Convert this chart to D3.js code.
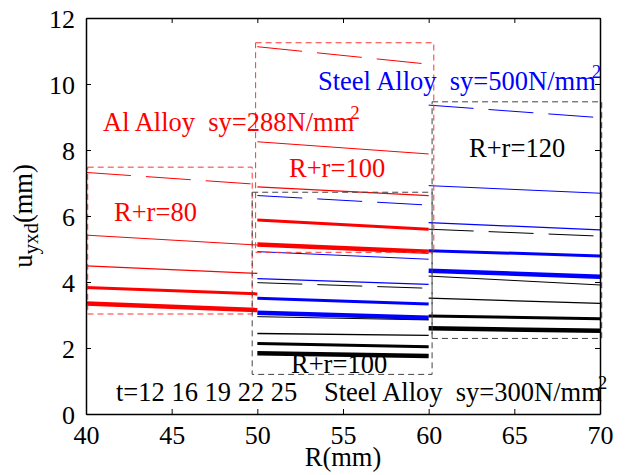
<!DOCTYPE html>
<html><head><meta charset="utf-8">
<script src="https://cdn.jsdelivr.net/npm/d3@7"></script>
<style>body{margin:0;background:#fff}svg{display:block}text{font-family:"Liberation Serif","Times New Roman","DejaVu Serif",serif}</style>
</head><body><svg id="c" width="627" height="475"></svg>
<script>
// ---- data ----
const xTicks = [40,45,50,55,60,65,70];
const yTicks = [0,2,4,6,8,10,12];
const tValues = [12,16,19,22,25];
// R ranges for each group
const rAl80 = [40,50];
const rAl100 = [50,60];
const rSteel100 = [50,60];
const rSteel120 = [60,70];
// u_yxd at start / end of each R range, for t = 12,16,19,22,25
const al80Start = [7.32,5.42,4.49,3.83,3.35];
const al80End   = [6.96,5.12,4.26,3.64,3.15];
const al100Start = [11.13,8.25,6.88,5.88,5.14];
const al100End   = [10.60,7.88,6.62,5.60,4.92];
const st500r100Start = [6.62,4.92,4.10,3.51,3.07];
const st500r100End   = [6.33,4.69,3.93,3.33,2.92];
const st500r120Start = [9.36,6.92,5.80,4.95,4.34];
const st500r120End   = [8.98,6.69,5.58,4.79,4.16];
const st300r100Start = [3.98,2.95,2.44,2.14,1.84];
const st300r100End   = [3.81,2.85,2.38,2.04,1.76];
const st300r120Start = [5.60,4.18,3.51,2.97,2.60];
const st300r120End   = [5.39,3.91,3.35,2.89,2.52];
// group boxes [R0,R1,u0,u1]
const boxAl80 = [40.1,49.7,3.03,7.48];
const boxAl100 = [49.9,60.3,4.9,11.25];
const boxSteel100 = [49.7,60.2,1.2,6.72];
const boxSteel120 = [60.2,70.1,2.29,9.46];

// ---- layout ----
const FONT = "Liberation Serif, Times New Roman, DejaVu Serif, serif";
const svg = d3.select("#c");
const L=86, R=600, T=18, B=414;
const x = d3.scaleLinear().domain([40,70]).range([L,R]);
const y = d3.scaleLinear().domain([0,12]).range([B,T]);
const widths = [1,1,1.3,3,4.5];
const fs = 26;
const afs = 26.5;

function drawGroup(range, starts, ends, color){
  const line = d3.line().x(d=>x(d[0])).y(d=>y(d[1]));
  tValues.forEach((t,i)=>{
    svg.append("path")
      .attr("d", line([[range[0],starts[i]],[range[1],ends[i]]]))
      .attr("fill","none").attr("stroke",color)
      .attr("stroke-width",widths[i])
      .attr("stroke-dasharray", i===0 ? "45,15" : null);
  });
}
function drawBox(b,color){
  svg.append("rect")
    .attr("x",x(b[0])).attr("y",y(b[3]))
    .attr("width",x(b[1])-x(b[0])).attr("height",y(b[2])-y(b[3]))
    .attr("fill","none").attr("stroke",color).attr("stroke-width",1)
    .attr("stroke-dasharray","6,4");
}

drawGroup(rAl80, al80Start, al80End, "#ff0000");
drawGroup(rAl100, al100Start, al100End, "#ff0000");
drawGroup(rSteel100, st500r100Start, st500r100End, "#0000ff");
drawGroup(rSteel120, st500r120Start, st500r120End, "#0000ff");
drawGroup(rSteel100, st300r100Start, st300r100End, "#000000");
drawGroup(rSteel120, st300r120Start, st300r120End, "#000000");

drawBox(boxAl80,"#ff3333");
drawBox(boxAl100,"#ff3333");
drawBox(boxSteel100,"#444");
drawBox(boxSteel120,"#444");

// ---- axes ----
const axB = svg.append("g").attr("transform",`translate(0,${B})`)
  .call(d3.axisBottom(x).tickValues(xTicks).tickSizeInner(-5).tickSizeOuter(0).tickPadding(12));
const axT = svg.append("g").attr("transform",`translate(0,${T})`)
  .call(d3.axisTop(x).tickValues(xTicks).tickSizeInner(-5).tickSizeOuter(0).tickFormat(""));
const axL = svg.append("g").attr("transform",`translate(${L},0)`)
  .call(d3.axisLeft(y).tickValues(yTicks).tickSizeInner(-5).tickSizeOuter(0).tickPadding(11));
const axR = svg.append("g").attr("transform",`translate(${R},0)`)
  .call(d3.axisRight(y).tickValues(yTicks).tickSizeInner(-5).tickSizeOuter(0).tickFormat(""));
[axB,axT,axL,axR].forEach(a=>{
  a.attr("font-family",FONT).attr("font-size",fs);
  a.select(".domain").attr("stroke","#000").attr("stroke-width",1.5);
  a.selectAll(".tick line").attr("stroke","#000");
  a.selectAll("text").attr("font-family",FONT).attr("font-size",fs).attr("fill","#000");
});
axB.selectAll("text").attr("dy","0.71em");
axL.selectAll("text").attr("dy","0.36em");

// ---- annotations ----
function label(px,py,txt,color,sup){
  const t = svg.append("text").attr("x",px).attr("y",py).attr("fill",color)
    .attr("font-family",FONT).attr("font-size",afs);
  t.append("tspan").text(txt);
  if(sup){ t.append("tspan").attr("font-size",19).attr("dx",-4).attr("dy",-12).text(sup); }
}
label(103,131,"Al Alloy\u00a0\u00a0sy=288N/mm","#ff0000","2");
label(114,221,"R+r=80","#ff0000");
label(289,177,"R+r=100","#ff0000");
label(318,90,"Steel Alloy\u00a0\u00a0sy=500N/mm","#0000ff","2");
label(469,157,"R+r=120","#000");
label(291,373,"R+r=100","#000");
label(116,401,"t="+tValues.join(" "),"#000");
label(324,401,"Steel Alloy\u00a0\u00a0sy=300N/mm","#000","2");

// axis titles
svg.append("text").attr("x",(L+R)/2).attr("y",466).attr("text-anchor","middle")
  .attr("font-family",FONT).attr("font-size",afs).text("R(mm)");
const yl = svg.append("text").attr("transform",`translate(32,${(T+B)/2}) rotate(-90)`)
  .attr("text-anchor","middle").attr("font-family",FONT).attr("font-size",afs);
yl.append("tspan").text("u");
yl.append("tspan").attr("font-size",21).attr("dy",6).text("yxd");
yl.append("tspan").attr("dy",-6).text("(mm)");
</script></body></html>
